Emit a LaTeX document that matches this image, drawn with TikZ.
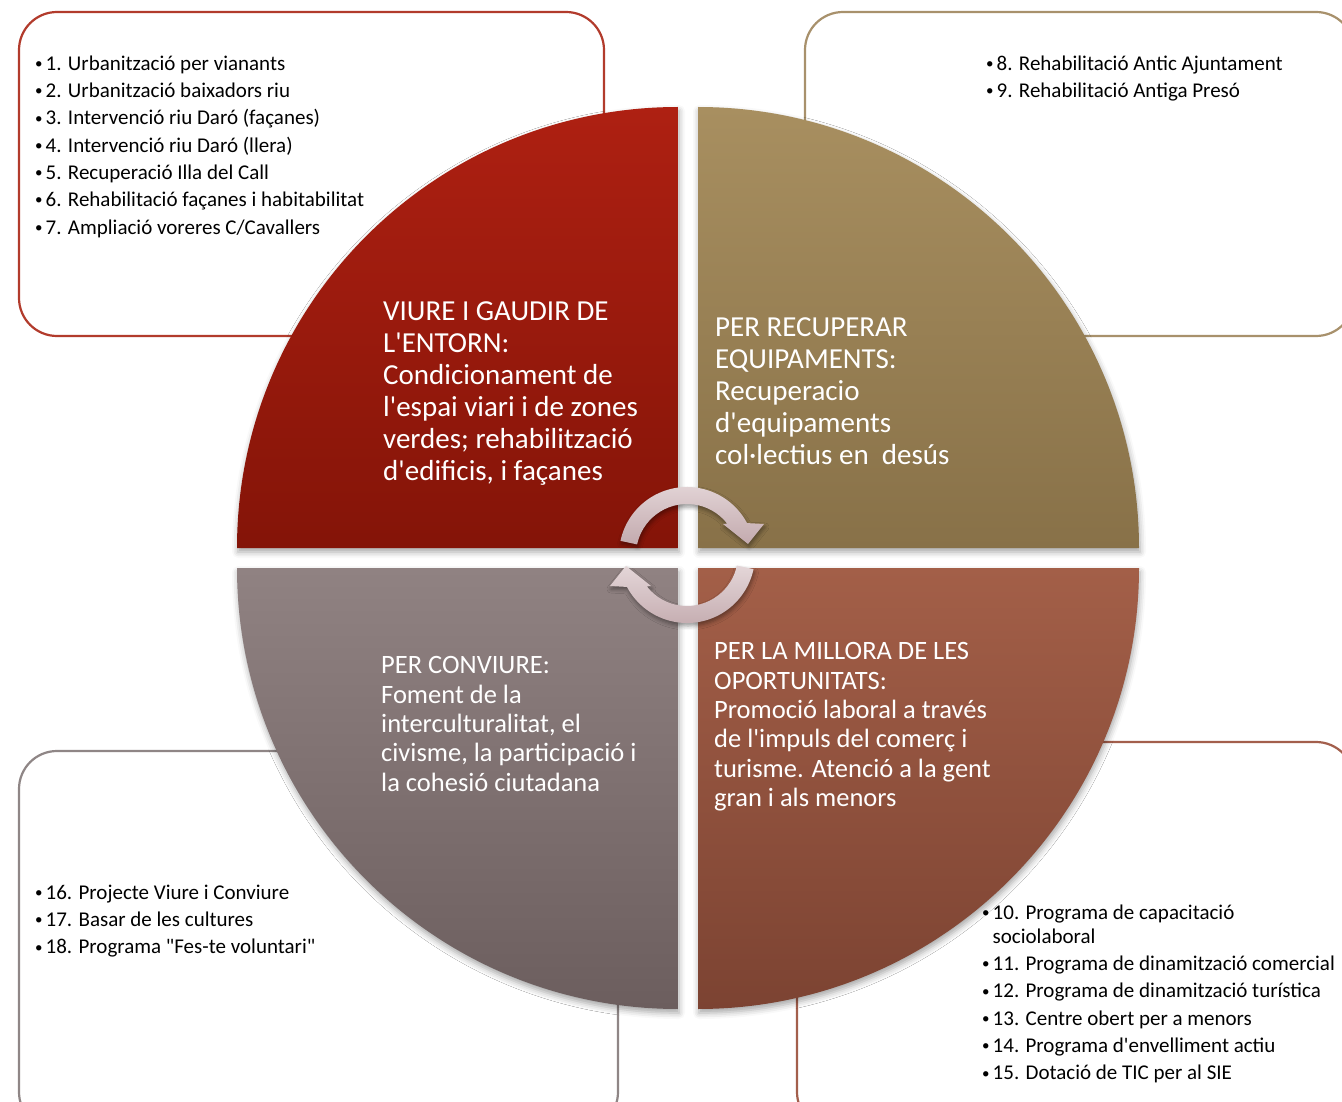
\documentclass[tikz,border=0pt]{standalone}
\usepackage{fontspec}
\setmainfont{Carlito}[Ligatures=TeXOff]
\usetikzlibrary{shadows.blur}

% colours of the four quadrants (top / bottom of the gradient) and of the boxes
\definecolor{viureTop}{HTML}{AE2012}
\definecolor{viureBot}{HTML}{841408}
\definecolor{equipTop}{HTML}{A88F60}
\definecolor{equipBot}{HTML}{887148}
\definecolor{conviTop}{HTML}{908282}
\definecolor{conviBot}{HTML}{6C5E5E}
\definecolor{oportTop}{HTML}{A35F48}
\definecolor{oportBot}{HTML}{7C4332}
\definecolor{viureLine}{HTML}{B23B2C}
\definecolor{equipLine}{HTML}{A8916C}
\definecolor{conviLine}{HTML}{8F8686}
\definecolor{oportLine}{HTML}{A35F4C}
\definecolor{cycleTop}{HTML}{E4D6D8}
\definecolor{cycleBot}{HTML}{C3AAAE}

\tikzset{
  quadrant/.style={blur shadow={shadow xshift=1pt,shadow yshift=-4pt,
      shadow blur radius=6pt,shadow opacity=35}},
  listbox/.style={line width=2.2pt,rounded corners=38pt,fill=white},
  quadtext/.style={anchor=north west,inner sep=0pt,align=left,text=white,
      font=\fontsize{29}{32}\selectfont},
  smallquad/.style={quadtext,font=\fontsize{26.5}{29.4}\selectfont},
  listtext/.style={anchor=north west,inner sep=0pt,align=left,
      font=\fontsize{21}{27.3}\selectfont},
  cyclearrow/.style={top color=cycleTop,bottom color=cycleBot,
      blur shadow={shadow xshift=1pt,shadow yshift=-3pt,
      shadow blur radius=4pt,shadow opacity=40}},
}
% small bullet of the lists
\newcommand{\itm}{\makebox[11.5pt][l]{\hspace{1pt}\raisebox{1.8pt}{\fontsize{15}{15}\selectfont •}}}

\begin{document}
\begin{tikzpicture}[x=1pt,y=1pt]
  \useasboundingbox (0,0) rectangle (1342,-1102);
  \clip (0,0) rectangle (1342,-1102);

  % boxes with the lists of actions (behind the circle)
  \draw[listbox,draw=viureLine] (19,-12) rectangle (604,-336);
  \draw[listbox,draw=equipLine] (805,-12) rectangle (1354,-336);
  \draw[listbox,draw=conviLine] (19,-751) rectangle (618,-1130);
  \draw[listbox,draw=oportLine] (797,-742) rectangle (1354,-1130);

  % the four quarters of the circle
  \shade[quadrant,top color=viureTop,bottom color=viureBot]
    (678,-548) -- (237,-548) arc[start angle=180,end angle=90,radius=441] -- cycle;
  \shade[quadrant,top color=equipTop,bottom color=equipBot]
    (698,-548) -- (698,-107) arc[start angle=90,end angle=0,radius=441] -- cycle;
  \shade[quadrant,top color=conviTop,bottom color=conviBot]
    (678,-568) -- (237,-568) arc[start angle=180,end angle=270,radius=441] -- cycle;
  \shade[quadrant,top color=oportTop,bottom color=oportBot]
    (698,-568) -- (1139,-568) arc[start angle=0,end angle=-90,radius=441] -- cycle;

  % texts of the quarters
  \node[quadtext] (viureText) at (383,-297.6)
    {\strut VIURE I GAUDIR DE\\ L'ENTORN:\\ Condicionament de\\
     l'espai viari i de zones\\ verdes; rehabilització\\ d'edificis, i façanes};
  \node[quadtext] (equipText) at (715,-313.9)
    {\strut PER RECUPERAR\\ EQUIPAMENTS:\\ Recuperacio\\ d'equipaments\\
     col·lectius en\ \ desús};
  \node[smallquad] (conviText) at (381,-652.9)
    {\strut PER CONVIURE:\\ Foment de la\\ interculturalitat, el\\
     civisme, la participació i\\ la cohesió ciutadana};
  \node[smallquad] (oportText) at (714,-638.9)
    {\strut PER LA MILLORA DE LES\\ OPORTUNITATS:\\ Promoció laboral a través\\
     de l'impuls del comerç i\\ turisme. Atenció a la gent\\ gran i als menors};

  % lists
  \node[listtext] (viureList) at (34,-50.9)
    {\strut\itm 1. Urbanització per vianants\\
     \itm 2. Urbanització baixadors riu\\
     \itm 3. Intervenció riu Daró (façanes)\\
     \itm 4. Intervenció riu Daró (llera)\\
     \itm 5. Recuperació Illa del Call\\
     \itm 6. Rehabilitació façanes i habitabilitat\\
     \itm 7. Ampliació voreres C/Cavallers};
  \node[listtext] (equipList) at (985,-50.9)
    {\strut\itm 8. Rehabilitació Antic Ajuntament\\
     \itm 9. Rehabilitació Antiga Presó};
  \node[listtext] (conviList) at (34,-880)
    {\strut\itm 16. Projecte Viure i Conviure\\
     \itm 17. Basar de les cultures\\
     \itm 18. Programa "Fes-te voluntari"};
  \node[listtext] (oportList) at (981,-900)
    {\strut\itm 10. Programa de capacitació\\[-3.3pt]
     \makebox[11.5pt]{}sociolaboral\\
     \itm 11. Programa de dinamització comercial\\
     \itm 12. Programa de dinamització turística\\
     \itm 13. Centre obert per a menors\\
     \itm 14. Programa d'envelliment actiu\\
     \itm 15. Dotació de TIC per al SIE};

  % the two circular arrows in the centre
  \begin{scope}[shift={(687,-555)}]
    \shade[cyclearrow]
      (168:68) arc[start angle=168,end angle=28,radius=68]
      -- (77,31) -- (61,11) -- (36,31)
      -- (38:51) arc[start angle=38,end angle=168,radius=51] -- cycle;
    \shade[cyclearrow]
      (348:68) arc[start angle=348,end angle=208,radius=68]
      -- (-77,-31) -- (-61,-11) -- (-36,-31)
      -- (218:51) arc[start angle=218,end angle=348,radius=51] -- cycle;
  \end{scope}
\end{tikzpicture}
\end{document}
